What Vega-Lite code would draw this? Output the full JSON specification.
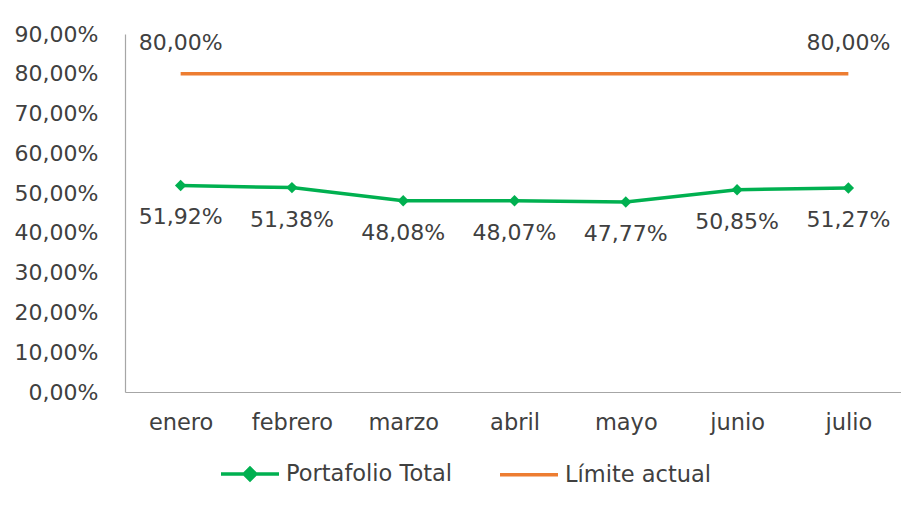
{
  "$schema": "https://vega.github.io/schema/vega-lite/v6.json",
  "width": 779,
  "height": 358,
  "autosize": {"type": "none"},
  "padding": {"left": 125, "top": 34, "right": 0, "bottom": 114},
  "background": "white",
  "config": {
    "view": {"stroke": null},
    "locale": {"number": {"decimal": ",", "thousands": ".", "grouping": [3], "currency": ["", " €"]}},
    "font": "DejaVu Sans"
  },
  "data": {
    "values": [
      {"mes": "enero", "serie": "Portafolio Total", "valor": 0.5192},
      {"mes": "febrero", "serie": "Portafolio Total", "valor": 0.5138},
      {"mes": "marzo", "serie": "Portafolio Total", "valor": 0.4808},
      {"mes": "abril", "serie": "Portafolio Total", "valor": 0.4807},
      {"mes": "mayo", "serie": "Portafolio Total", "valor": 0.4777},
      {"mes": "junio", "serie": "Portafolio Total", "valor": 0.5085},
      {"mes": "julio", "serie": "Portafolio Total", "valor": 0.5127},
      {"mes": "enero", "serie": "Límite actual", "valor": 0.8},
      {"mes": "febrero", "serie": "Límite actual", "valor": 0.8},
      {"mes": "marzo", "serie": "Límite actual", "valor": 0.8},
      {"mes": "abril", "serie": "Límite actual", "valor": 0.8},
      {"mes": "mayo", "serie": "Límite actual", "valor": 0.8},
      {"mes": "junio", "serie": "Límite actual", "valor": 0.8},
      {"mes": "julio", "serie": "Límite actual", "valor": 0.8}
    ]
  },
  "encoding": {
    "x": {
      "field": "mes", "type": "nominal",
      "sort": ["enero", "febrero", "marzo", "abril", "mayo", "junio", "julio"],
      "scale": {"type": "point", "padding": 0.5},
      "axis": {"title": null, "labelAngle": 0, "ticks": false, "domainColor": "#a6a6a6", "domainWidth": 1.2, "labelFontSize": 22.5, "labelColor": "#404040", "labelPadding": 19, "labelFont": "DejaVu Sans"}
    },
    "y": {
      "field": "valor", "type": "quantitative",
      "scale": {"domain": [0, 0.9], "nice": false},
      "axis": {"title": null, "values": [0, 0.1, 0.2, 0.3, 0.4, 0.5, 0.6, 0.7, 0.8, 0.9], "format": ".2%", "grid": false, "ticks": false, "domainColor": "#a6a6a6", "domainWidth": 1.2, "labelFontSize": 22, "labelColor": "#404040", "labelPadding": 27, "labelFont": "DejaVu Sans"}
    }
  },
  "layer": [
    {
      "mark": {"type": "line", "strokeWidth": 3.5},
      "encoding": {
        "color": {
          "field": "serie", "type": "nominal",
          "scale": {"domain": ["Portafolio Total", "Límite actual"], "range": ["#00B050", "#ED7D31"]},
          "legend": {
            "orient": "none", "legendX": 94, "legendY": 409, "direction": "horizontal",
            "title": null, "padding": 0, "symbolSize": 3364, "symbolStrokeWidth": 3.5,
            "labelFontSize": 22.5, "labelFont": "DejaVu Sans", "labelColor": "#404040",
            "labelLimit": 0, "columnPadding": 40, "labelOffset": 5,
            "encode": {
              "symbols": {
                "update": {
                  "shape": {"signal": "datum.value === 'Portafolio Total' ? 'M-1,0H1M0,-0.2L0.2,0L0,0.2L-0.2,0Z' : 'M-1,0H1'"},
                  "fill": {"signal": "datum.value === 'Portafolio Total' ? '#00B050' : 'transparent'"}
                }
              }
            }
          }
        }
      }
    },
    {
      "transform": [{"filter": "datum.serie === 'Portafolio Total'"}],
      "mark": {"type": "point", "shape": "diamond", "filled": true, "size": 130, "color": "#00B050", "opacity": 1}
    },
    {
      "transform": [{"filter": "datum.serie === 'Portafolio Total'"}],
      "mark": {"type": "text", "dy": 32, "fontSize": 22, "color": "#404040", "font": "DejaVu Sans"},
      "encoding": {"text": {"field": "valor", "type": "quantitative", "format": ".2%"}}
    },
    {
      "transform": [{"filter": "datum.serie === 'Límite actual' && (datum.mes === 'enero' || datum.mes === 'julio')"}],
      "mark": {"type": "text", "dy": -31, "fontSize": 22, "color": "#404040", "font": "DejaVu Sans"},
      "encoding": {"text": {"field": "valor", "type": "quantitative", "format": ".2%"}}
    }
  ]
}
